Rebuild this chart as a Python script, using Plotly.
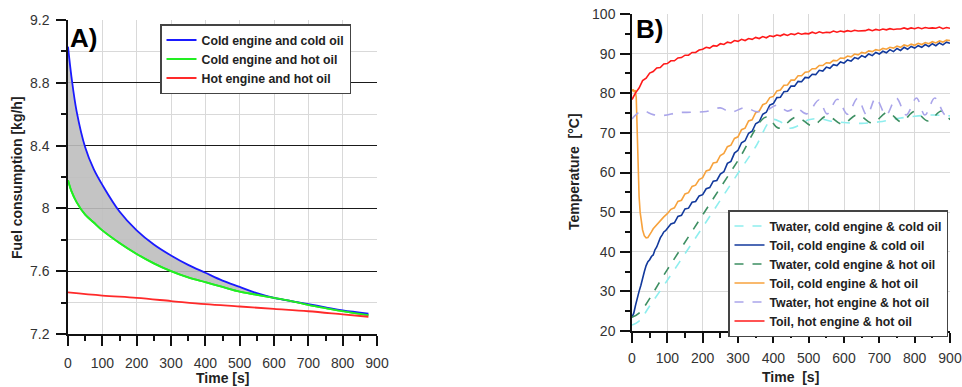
import plotly.graph_objects as go

# ---------------- Panel A data ----------------
time_a = [0, 10, 25, 50, 75, 100, 150, 200, 250, 300, 350, 400, 450, 500, 550, 600, 650, 700, 750, 800, 875]
fuel_cold_cold = [9.03, 8.84, 8.62, 8.39, 8.25, 8.15, 7.98, 7.86, 7.77, 7.70, 7.64, 7.59, 7.54, 7.50, 7.46, 7.43, 7.41, 7.39, 7.37, 7.35, 7.33]
fuel_cold_hot = [8.18, 8.11, 8.04, 7.96, 7.91, 7.86, 7.78, 7.71, 7.65, 7.60, 7.56, 7.53, 7.50, 7.47, 7.45, 7.43, 7.41, 7.385, 7.365, 7.345, 7.32]
time_a_hot = [0, 100, 200, 300, 400, 500, 600, 700, 800, 875]
fuel_hot_hot = [7.465, 7.445, 7.43, 7.41, 7.39, 7.375, 7.36, 7.345, 7.325, 7.31]

# ---------------- Panel B data ----------------
toil_hot_hot = [
    78.4, 80.1, 81.3, 83.2, 83.8, 85.1, 85.5, 86.4, 86.5, 87.4,
    87.5, 88.2, 88.2, 88.9, 89.0, 89.6, 89.6, 90.3, 90.3, 90.9,
    91.1, 91.6, 91.4, 92.0, 91.9, 92.5, 92.3, 92.9, 92.7, 93.3,
    93.1, 93.6, 93.3, 93.8, 93.6, 94.1, 93.8, 94.3, 94.0, 94.5,
    94.3, 94.7, 94.5, 94.9, 94.6, 95.0, 94.8, 95.2, 94.9, 95.1,
    95.0, 95.4, 95.1, 95.5, 95.2, 95.4, 95.3, 95.7, 95.4, 95.7,
    95.5, 95.8, 95.6, 95.9, 95.7, 95.8, 95.8, 96.1, 95.8, 96.1,
    95.9, 96.2, 96.0, 96.3, 96.1, 96.2, 96.2, 96.5, 96.2, 96.5,
    96.3, 96.6, 96.3, 96.6, 96.4, 96.5, 96.4, 96.7, 96.3, 96.6,
    96.4]
time_hot_hot = [10 * i for i in range(len(toil_hot_hot))]

time_oil_ch_early = [0, 3, 6, 9, 12, 14, 16, 18, 20, 23, 26, 30, 35, 40, 45, 50, 55, 60, 70, 80, 90, 100]
toil_cold_hot_early = [80.5, 81.0, 80.3, 80.8, 79.0, 72.0, 64.0, 58.0, 54.0, 50.0, 47.5, 45.5, 44.0, 43.5, 43.6, 44.2, 45.0, 45.8, 46.8, 47.9, 48.8, 49.6]
toil_cold_hot_late = [
    50.7, 51.1, 52.7, 53.0, 54.6, 54.9, 56.5, 56.8, 58.2,
    58.7, 60.4, 60.7, 62.4, 62.6, 64.3, 64.8, 66.5, 66.9, 68.6,
    69.0, 70.8, 71.2, 73.0, 73.3, 75.1, 75.5, 77.1, 77.5, 78.9,
    79.2, 80.6, 80.8, 82.0, 82.1, 83.3, 83.3, 84.4, 84.4, 85.3,
    85.4, 86.2, 86.2, 87.0, 87.0, 87.7, 87.6, 88.3, 88.2, 88.9,
    88.8, 89.4, 89.2, 89.9, 89.7, 90.3, 90.1, 90.7, 90.5, 91.0,
    90.8, 91.3, 91.1, 91.6, 91.4, 91.9, 91.6, 92.2, 91.9, 92.4,
    92.1, 92.6, 92.3, 92.8, 92.5, 93.0, 92.7, 93.2, 92.9, 93.4,
    93.3]
time_oil_ch = time_oil_ch_early + [110 + 10 * i for i in range(len(toil_cold_hot_late))]
toil_cold_hot = toil_cold_hot_early + toil_cold_hot_late

time_oil_cc_early = [0, 5, 10, 15, 20, 25, 30, 35, 40, 45, 50, 55, 60, 65, 70, 75, 80, 85, 90, 95, 100]
toil_cold_cold_early = [23.5, 24.5, 26.5, 28.5, 30.0, 31.5, 33.5, 35.0, 36.5, 37.5, 38.0, 38.8, 39.2, 40.5, 41.2, 42.5, 43.5, 44.2, 45.0, 45.3, 45.8]
toil_cold_cold_late = [
    47.0, 47.3, 48.9, 49.2, 50.8, 51.0, 52.5, 52.7, 54.1,
    54.4, 55.9, 56.2, 57.8, 58.0, 59.6, 60.2, 62.3, 62.8, 64.9,
    65.6, 67.5, 68.0, 69.9, 70.4, 72.3, 72.8, 74.7, 75.2, 77.0,
    77.4, 78.9, 79.0, 80.4, 80.5, 81.8, 81.8, 83.0, 82.9, 84.0,
    83.9, 84.8, 84.7, 85.8, 85.6, 86.6, 86.3, 87.2, 87.0, 87.9,
    87.6, 88.4, 88.1, 89.0, 88.7, 89.5, 89.1, 89.9, 89.5, 90.3,
    89.9, 90.6, 90.2, 91.0, 90.5, 91.3, 90.8, 91.6, 91.1, 91.8,
    91.4, 92.0, 91.6, 92.3, 91.8, 92.5, 92.0, 92.7, 92.2, 92.9,
    92.6]
time_oil_cc = time_oil_cc_early + [110 + 10 * i for i in range(len(toil_cold_cold_late))]
toil_cold_cold = toil_cold_cold_early + toil_cold_cold_late

time_w_cc = [0, 20, 50, 100, 150, 200, 250, 300, 350, 395, 420, 445, 470, 500, 530, 560, 600, 650, 700, 750, 800, 850, 900]
twater_cold_cold = [21.5, 22.5, 26.3, 32.8, 39.5, 46.2, 53.0, 59.8, 66.5, 73.3, 72.8, 71.2, 71.8, 73.3, 73.6, 73.0, 72.6, 72.4, 72.8, 73.6, 74.2, 74.5, 74.3]

time_w_ch = [0, 20, 100, 200, 300, 380, 415, 466, 510, 552, 595, 638, 680, 724, 762, 800, 838, 876, 900]
twater_cold_hot = [23.5, 24.5, 35.5, 49.3, 63.0, 74.0, 71.2, 74.0, 71.8, 74.3, 72.2, 74.6, 72.5, 75.2, 72.8, 75.4, 73.0, 75.5, 73.3]

time_w_hh = [0, 10, 30, 60, 90, 130, 170, 210, 250, 280, 320, 350, 380, 410, 440, 465, 495, 529, 552, 581, 610, 638, 665, 690, 719, 748, 776, 805, 829, 857, 886, 900]
twater_hot_hot = [73.5, 74.5, 75.6, 74.6, 74.4, 75.1, 75.2, 75.4, 76.3, 75.2, 76.4, 75.4, 75.6, 77.0, 75.5, 76.3, 74.8, 78.3, 74.8, 78.5, 74.7, 78.7, 74.5, 78.8, 74.5, 78.8, 74.5, 78.8, 74.5, 78.8, 74.6, 76.3]

ticks_a_y = [7.2, 7.6, 8.0, 8.4, 8.8, 9.2]
ticks_time = [0, 100, 200, 300, 400, 500, 600, 700, 800, 900]
ticks_b_y = [20, 30, 40, 50, 60, 70, 80, 90, 100]

FONT = "Liberation Sans, Arial, sans-serif"
W, H = 962, 387

fig = go.Figure()

# Panel A
fig.add_trace(go.Scatter(x=time_a, y=fuel_cold_hot, mode="lines", name="Cold engine and hot oil",
                         line=dict(color="#22ee22", width=1.8, shape="spline"), legend="legend", legendrank=2,
                         xaxis="x", yaxis="y"))
fig.add_trace(go.Scatter(x=time_a, y=fuel_cold_cold, mode="lines", showlegend=False, hoverinfo="skip",
                         line=dict(color="rgba(0,0,0,0)", width=0, shape="spline"), fill="tonexty",
                         fillcolor="rgba(190,190,190,0.9)", xaxis="x", yaxis="y"))
fig.add_trace(go.Scatter(x=time_a, y=fuel_cold_cold, mode="lines", name="Cold engine and cold oil",
                         line=dict(color="#1a1aff", width=1.8, shape="spline"), legend="legend", legendrank=1,
                         xaxis="x", yaxis="y"))
fig.add_trace(go.Scatter(x=time_a, y=fuel_cold_hot, mode="lines", showlegend=False, hoverinfo="skip",
                         line=dict(color="#22ee22", width=1.8, shape="spline"), xaxis="x", yaxis="y"))
fig.add_trace(go.Scatter(x=time_a_hot, y=fuel_hot_hot, mode="lines", name="Hot engine and hot oil",
                         line=dict(color="#ff2a2a", width=1.8, shape="spline"), legend="legend", legendrank=3,
                         xaxis="x", yaxis="y"))

# Panel B
b_series = [
    (time_w_cc, twater_cold_cold, "Twater, cold engine & cold oil", "#8eeeee", "dash", "spline"),
    (time_oil_cc, toil_cold_cold, "Toil, cold engine & cold oil", "#12399c", "solid", "linear"),
    (time_w_ch, twater_cold_hot, "Twater, cold engine & hot oil", "#3d8f62", "dash", "spline"),
    (time_oil_ch, toil_cold_hot, "Toil, cold engine & hot oil", "#f7a23c", "solid", "linear"),
    (time_w_hh, twater_hot_hot, "Twater, hot engine & hot oil", "#aaa5ea", "dash", "spline"),
    (time_hot_hot, toil_hot_hot, "Toil, hot engine & hot oil", "#ff1a1a", "solid", "linear"),
]
for tx, vy, nm, col, dash, shape in b_series:
    fig.add_trace(go.Scatter(x=tx, y=vy, mode="lines", name=nm,
                             line=dict(color=col, width=1.6, dash=dash, shape=shape),
                             legend="legend2", xaxis="x2", yaxis="y2"))

tickfont = dict(family=FONT, size=14, color="#333333")


def x_axis(domain, anchor, standoff):
    return dict(domain=domain, anchor=anchor, range=[0, 900], tickvals=ticks_time, ticks="outside",
                ticklen=10, tickwidth=1.5, tickcolor="#111", showline=True, linecolor="#111",
                linewidth=1.5, showgrid=True, gridcolor="#d9d9d9", gridwidth=1, zeroline=False,
                tickfont=tickfont, ticklabelstandoff=standoff, ticklabeloverflow="allow",
                minor=dict(dtick=50, tick0=0, ticks="outside", ticklen=5, tickwidth=1.5,
                           tickcolor="#111", showgrid=False), automargin=False)


fig.update_layout(
    width=W, height=H, margin=dict(l=0, r=0, t=0, b=0),
    paper_bgcolor="white", plot_bgcolor="white",
    font=dict(family=FONT),
    xaxis=x_axis([68 / W, 377 / W], "y", 5),
    yaxis=dict(domain=[1 - 334 / H, 1 - 20 / H], anchor="x", range=[7.2, 9.2], tickvals=ticks_a_y,
               ticks="outside", ticklen=10, tickwidth=1.5, tickcolor="#111", showline=True,
               linecolor="#111", linewidth=1.5, showgrid=True, gridcolor="#1a1a1a", gridwidth=1,
               zeroline=False, tickfont=tickfont, ticklabelstandoff=4, automargin=False,
               minor=dict(dtick=0.2, tick0=7.2, ticks="outside", ticklen=5, tickwidth=1.5,
                          tickcolor="#111", showgrid=True, gridcolor="#d9d9d9", gridwidth=1)),
    xaxis2=x_axis([632 / W, 950 / W], "y2", 3),
    yaxis2=dict(domain=[1 - 331 / H, 1 - 14 / H], anchor="x2", range=[20, 100], tickvals=ticks_b_y,
                ticks="outside", ticklen=10, tickwidth=1.5, tickcolor="#111", showline=True,
                linecolor="#111", linewidth=1.5, showgrid=True, gridcolor="#d9d9d9", gridwidth=1,
                zeroline=False, tickfont=tickfont, ticklabelstandoff=2, automargin=False,
                minor=dict(dtick=5, tick0=20, ticks="outside", ticklen=5, tickwidth=1.5,
                           tickcolor="#111", showgrid=False)),
    legend=dict(x=160 / W, y=1 - 24 / H, xanchor="left", yanchor="top", bgcolor="white",
                bordercolor="#444", borderwidth=1.5, traceorder="normal",
                font=dict(family=FONT, size=12.3, color="#222"), tracegroupgap=0),
    legend2=dict(x=948 / W, y=1 - 210 / H, xanchor="right", yanchor="top", bgcolor="white",
                 bordercolor="#444", borderwidth=1.5, traceorder="normal",
                 font=dict(family=FONT, size=12.3, color="#222"), tracegroupgap=0),
    showlegend=True,
)

annotations = [
    dict(text="<b>A)</b>", x=68 / W, y=1 - 38 / H, xanchor="left", yanchor="middle",
         font=dict(family=FONT, size=26, color="black")),
    dict(text="<b>B)</b>", x=634 / W, y=1 - 29 / H, xanchor="left", yanchor="middle",
         font=dict(family=FONT, size=26, color="black")),
    dict(text="<b>Time [s]</b>", x=222 / W, y=1 - 378 / H, xanchor="center", yanchor="middle",
         font=dict(family=FONT, size=14, color="#222")),
    dict(text="<b>Fuel consumption [kg/h]</b>", x=17 / W, y=1 - 178 / H, xanchor="center",
         yanchor="middle", textangle=-90, font=dict(family=FONT, size=14, color="#222")),
    dict(text="<b>Time  [s]</b>", x=790 / W, y=1 - 377 / H, xanchor="center", yanchor="middle",
         font=dict(family=FONT, size=14, color="#222")),
    dict(text="<b>Temperature  [°C]</b>", x=574 / W, y=1 - 172 / H, xanchor="center",
         yanchor="middle", textangle=-90, font=dict(family=FONT, size=14, color="#222")),
]
for a in annotations:
    a.update(xref="paper", yref="paper", showarrow=False)
fig.update_layout(annotations=annotations)

# bold legend labels
for tr in fig.data:
    if tr.name:
        tr.name = "<b>" + tr.name + "</b>"

fig.write_html("out.html", config={"displayModeBar": False},
               post_script="document.body.style.margin='0';document.body.style.overflow='hidden';")
